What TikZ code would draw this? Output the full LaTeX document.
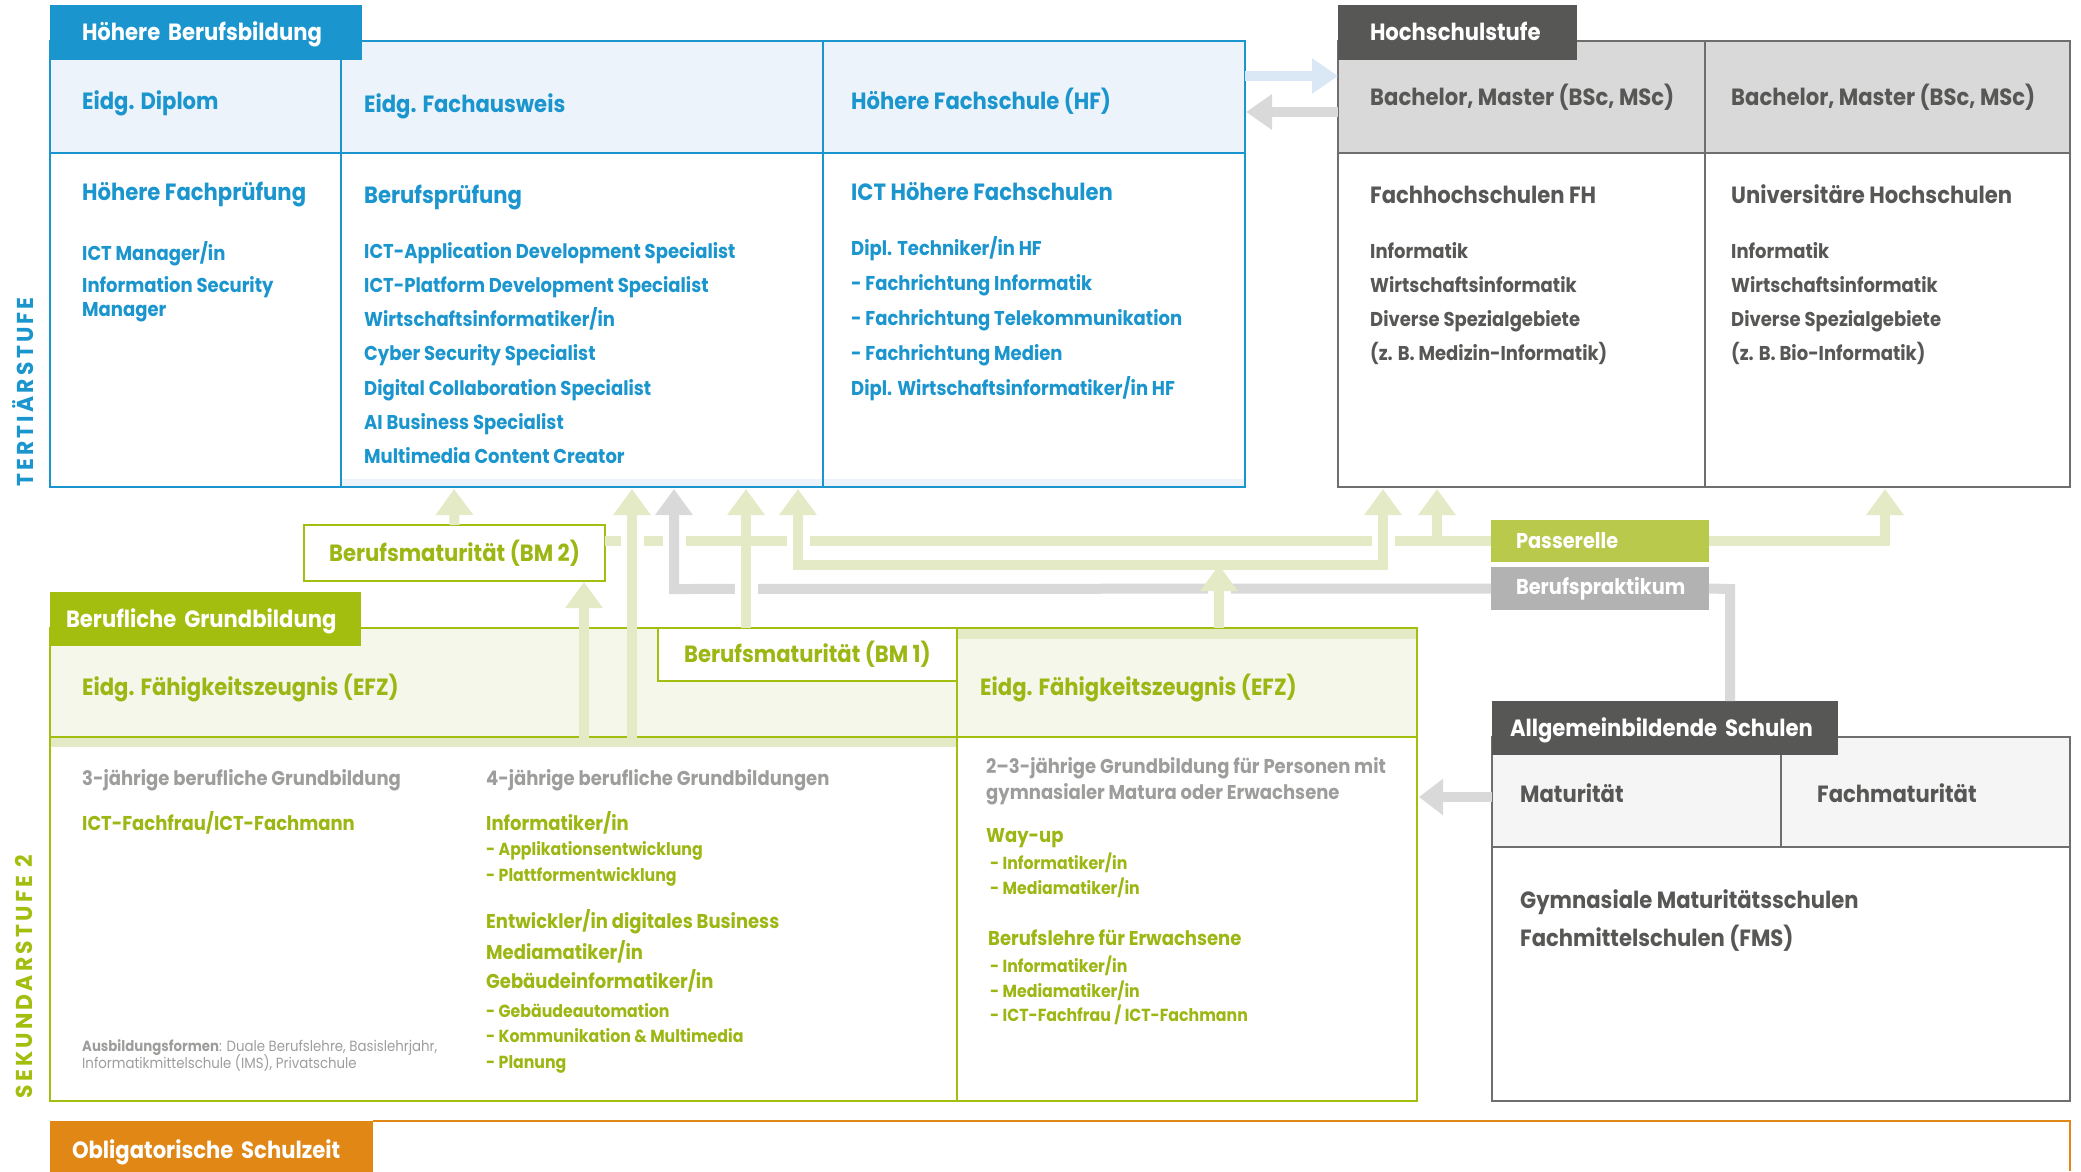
\documentclass[tikz,border=0pt]{standalone}
\usepackage{fontspec}
\setmainfont{Poppins}[FakeStretch=0.9]
\newfontfamily\stufeFamily{Poppins}[LetterSpace=14, FakeStretch=0.95]
\usepackage{tikz}
\usetikzlibrary{arrows.meta}
\definecolor{hbBlue}{HTML}{1A95CD}
\definecolor{hbLight}{HTML}{ECF3FB}
\definecolor{hbArrow}{HTML}{DAE8F6}
\definecolor{hsDark}{HTML}{575756}
\definecolor{hsGrey}{HTML}{D9D9D9}
\definecolor{hsLine}{HTML}{6E6E6E}
\definecolor{bgGreen}{HTML}{A3BE0F}
\definecolor{bgText}{HTML}{9CB713}
\definecolor{bgLight}{HTML}{F4F7EA}
\definecolor{bgStrip}{HTML}{E3EAC5}
\definecolor{pathGreen}{HTML}{E3EAC5}
\definecolor{passGreen}{HTML}{B8C94C}
\definecolor{prakGrey}{HTML}{B2B2B2}
\definecolor{pathGrey}{HTML}{D9D9D9}
\definecolor{textGrey}{HTML}{9D9D9C}
\definecolor{agLight}{HTML}{F5F5F5}
\definecolor{osOrange}{HTML}{E08716}
\newcommand{\tabFont}{\fontsize{23.5}{27}\selectfont\bfseries}
\newcommand{\boxFont}{\fontsize{21.5}{25}\selectfont\bfseries}
\newcommand{\headFont}{\fontsize{23.5}{28}\selectfont\bfseries}
\newcommand{\itemFont}{\fontsize{20}{24}\selectfont\bfseries}
\newcommand{\subFont}{\fontsize{17.5}{20}\selectfont\bfseries}
\newcommand{\noteFont}{\fontsize{14.8}{17}\selectfont}
\newcommand{\stufeFont}{\stufeFamily\fontsize{23}{26}\selectfont\bfseries}

\begin{document}
\begin{tikzpicture}[x=1pt, y=-1pt]

  \tikzstyle{fillBox} = [anchor=north west, inner sep=0pt, outer sep=0pt, draw=none];
  \tikzstyle{frameBox} = [anchor=north west, inner sep=0pt, outer sep=0pt, line width=1.6pt];
  \tikzstyle{tab} = [anchor=north west, inner ysep=0pt, outer sep=0pt, align=left, text=white, font=\tabFont, text height=16pt, text depth=0pt];
  \tikzstyle{lbl} = [anchor=west, inner sep=0pt, text depth=0pt];
  \tikzstyle{headTxt} = [lbl, font=\headFont, text height=16pt];
  \tikzstyle{itemTxt} = [lbl, font=\itemFont, text height=14pt];
  \tikzstyle{subTxt} = [lbl, font=\subFont, text height=12pt];
  \tikzstyle{greenPath} = [draw=pathGreen, line width=10pt];
  \tikzstyle{greyPath} = [draw=pathGrey, line width=10pt];
  \tikzstyle{upTip} = [-{Triangle[width=36pt,length=26pt]}];
  \tikzstyle{gap} = [draw=white, line width=23pt];

  \useasboundingbox (0,0) rectangle (2081,1171);

  % Hoehere Berufsbildung
  \node[fillBox, fill=hbLight, minimum width=1195pt, minimum height=112pt] (hbHead) at (50,41) {};
  \node[fillBox, fill=hbLight, minimum width=904pt, minimum height=8pt] (hbFoot) at (341,479) {};
  \node[frameBox, draw=hbBlue, minimum width=1195pt, minimum height=446pt] (hb) at (50,41) {};
  \draw[hbBlue, line width=1.6pt] (hbHead.south west) -- (hbHead.south east);
  \draw[hbBlue, line width=1.6pt] (341,41) -- (341,487);
  \draw[hbBlue, line width=1.6pt] (823,41) -- (823,487);
  \node[tab, fill=hbBlue, minimum width=312pt, minimum height=55pt, inner xsep=32pt, text width=248pt] (hbTab) at (50,5) {Höhere Berufsbildung};

  \node[headTxt, text=hbBlue] (diplom) at (82,101) {Eidg. Diplom};
  \node[headTxt, text=hbBlue] (ausweis) at (364,104) {Eidg. Fachausweis};
  \node[headTxt, text=hbBlue] (hf) at (851,101) {Höhere Fachschule (HF)};
  \node[headTxt, text=hbBlue] (hfp) at (82,192) {Höhere Fachprüfung};
  \node[headTxt, text=hbBlue] (bp) at (364,195) {Berufsprüfung};
  \node[headTxt, text=hbBlue] (icthf) at (851,192) {ICT Höhere Fachschulen};

  \node[itemTxt, text=hbBlue] (hfp1) at (82,253) {ICT Manager/in};
  \node[itemTxt, text=hbBlue] (hfp2) at (82,285) {Information Security};
  \node[itemTxt, text=hbBlue] (hfp3) at (82,309) {Manager};
  \foreach \txt [count=\i from 0] in {ICT-Application Development Specialist, ICT-Platform Development Specialist, Wirtschaftsinformatiker/in, Cyber Security Specialist, Digital Collaboration Specialist, AI Business Specialist, Multimedia Content Creator}
    \node[itemTxt, text=hbBlue] (bp\i) at (364,251+34.3*\i) {\txt};
  \foreach \txt [count=\i from 0] in {Dipl. Techniker/in HF, - Fachrichtung Informatik, - Fachrichtung Telekommunikation, - Fachrichtung Medien, Dipl. Wirtschaftsinformatiker/in HF}
    \node[itemTxt, text=hbBlue] (hf\i) at (851,248+35*\i) {\txt};

  % Hochschulstufe
  \node[fillBox, fill=hsGrey, minimum width=732pt, minimum height=112pt] (hsHead) at (1338,41) {};
  \node[frameBox, draw=hsLine, minimum width=732pt, minimum height=446pt] (hs) at (1338,41) {};
  \draw[hsLine, line width=1.6pt] (hsHead.south west) -- (hsHead.south east);
  \draw[hsLine, line width=1.6pt] (1705,41) -- (1705,487);
  \node[tab, fill=hsDark, minimum width=239pt, minimum height=55pt, inner xsep=32pt, text width=175pt] (hsTab) at (1338,5) {Hochschulstufe};

  \node[headTxt, text=hsDark] (fhBa) at (1370,97) {Bachelor, Master (BSc, MSc)};
  \node[headTxt, text=hsDark] (uniBa) at (1731,97) {Bachelor, Master (BSc, MSc)};
  \node[headTxt, text=hsDark] (fh) at (1370,195) {Fachhochschulen FH};
  \node[headTxt, text=hsDark] (uni) at (1731,195) {Universitäre Hochschulen};
  \foreach \txt [count=\i from 0] in {Informatik, Wirtschaftsinformatik, Diverse Spezialgebiete, (z. B. Medizin-Informatik)}
    \node[itemTxt, text=hsDark] (fh\i) at (1370,251+34*\i) {\txt};
  \foreach \txt [count=\i from 0] in {Informatik, Wirtschaftsinformatik, Diverse Spezialgebiete, (z. B. Bio-Informatik)}
    \node[itemTxt, text=hsDark] (uni\i) at (1731,251+34*\i) {\txt};

  % Durchlaessigkeit HF <-> Hochschule
  \coordinate (hfOut) at (1245,76);
  \coordinate (hsIn) at (1338,76);
  \coordinate (hsOut) at (1338,112);
  \coordinate (hfIn) at (1246,112);
  \draw[hbArrow, line width=10pt, -{Triangle[width=34pt,length=26pt]}] (hfOut) -- (hsIn);
  \draw[pathGrey, line width=10pt, -{Triangle[width=34pt,length=26pt]}] (hsOut) -- (hfIn);

  % Berufliche Grundbildung
  \node[fillBox, fill=bgLight, minimum width=907pt, minimum height=109pt] (efzL) at (50,628) {};
  \node[fillBox, fill=bgStrip, minimum width=907pt, minimum height=10pt] (efzLStrip) at (50,737) {};
  \node[fillBox, fill=bgLight, minimum width=460pt, minimum height=109pt] (efzR) at (957,628) {};
  \node[fillBox, fill=bgStrip, minimum width=460pt, minimum height=11pt] (efzRStrip) at (957,628) {};
  \node[frameBox, draw=bgGreen, minimum width=1367pt, minimum height=473pt] (bg) at (50,628) {};
  \draw[bgGreen, line width=1.6pt] (efzL.south west) -- (efzR.south east);
  \draw[bgGreen, line width=1.6pt] (efzR.north west) -- (957,1101);
  \node[frameBox, draw=bgGreen, fill=white, minimum width=299pt, minimum height=53pt, text=bgText, font=\tabFont] (bm1) at (658,628) {Berufsmaturität (BM 1)};
  \node[tab, fill=bgGreen, minimum width=311pt, minimum height=54pt, inner xsep=16pt, text width=279pt] (bgTab) at (50,592) {Berufliche Grundbildung};

  \node[headTxt, text=bgText] (efzLTxt) at (82,687) {Eidg. Fähigkeitszeugnis (EFZ)};
  \node[headTxt, text=bgText] (efzRTxt) at (980,687) {Eidg. Fähigkeitszeugnis (EFZ)};

  \node[itemTxt, text=textGrey] (g3) at (82,778) {3-jährige berufliche Grundbildung};
  \node[itemTxt, text=bgText] (g3a) at (82,823) {ICT-Fachfrau/ICT-Fachmann};
  \node[lbl, font=\noteFont, text=textGrey, text height=10pt] (form1) at (82,1046) {\textbf{Ausbildungsformen}: Duale Berufslehre, Basislehrjahr,};
  \node[lbl, font=\noteFont, text=textGrey, text height=10pt] (form2) at (82,1063) {Informatikmittelschule (IMS), Privatschule};

  \node[itemTxt, text=textGrey] (g4) at (486,778) {4-jährige berufliche Grundbildungen};
  \node[itemTxt, text=bgText] (g4a) at (486,823) {Informatiker/in};
  \node[subTxt, text=bgText] (g4a1) at (486,849) {- Applikationsentwicklung};
  \node[subTxt, text=bgText] (g4a2) at (486,875) {- Plattformentwicklung};
  \node[itemTxt, text=bgText] (g4b) at (486,921) {Entwickler/in digitales Business};
  \node[itemTxt, text=bgText] (g4c) at (486,952) {Mediamatiker/in};
  \node[itemTxt, text=bgText] (g4d) at (486,981) {Gebäudeinformatiker/in};
  \node[subTxt, text=bgText] (g4d1) at (486,1011) {- Gebäudeautomation};
  \node[subTxt, text=bgText] (g4d2) at (486,1036) {- Kommunikation \& Multimedia};
  \node[subTxt, text=bgText] (g4d3) at (486,1062) {- Planung};

  \node[itemTxt, text=textGrey] (g2) at (986,766) {2–3-jährige Grundbildung für Personen mit};
  \node[itemTxt, text=textGrey] (g2b) at (986,792) {gymnasialer Matura oder Erwachsene};
  \node[itemTxt, text=bgText] (way) at (986,835) {Way-up};
  \node[subTxt, text=bgText] (way1) at (990,863) {- Informatiker/in};
  \node[subTxt, text=bgText] (way2) at (990,888) {- Mediamatiker/in};
  \node[itemTxt, text=bgText] (adult) at (988,938) {Berufslehre für Erwachsene};
  \node[subTxt, text=bgText] (adult1) at (990,966) {- Informatiker/in};
  \node[subTxt, text=bgText] (adult2) at (990,991) {- Mediamatiker/in};
  \node[subTxt, text=bgText] (adult3) at (990,1015) {- ICT-Fachfrau / ICT-Fachmann};

  % Allgemeinbildende Schulen
  \node[fillBox, fill=agLight, minimum width=578pt, minimum height=110pt] (agHead) at (1492,737) {};
  \node[frameBox, draw=hsLine, minimum width=578pt, minimum height=364pt] (ag) at (1492,737) {};
  \draw[hsLine, line width=1.6pt] (agHead.south west) -- (agHead.south east);
  \draw[hsLine, line width=1.6pt] (1781,737) -- (1781,847);
  \node[tab, fill=hsDark, minimum width=346pt, minimum height=54pt, inner xsep=18pt, text width=310pt] (agTab) at (1492,701) {Allgemeinbildende Schulen};
  \node[headTxt, text=hsDark] (mat) at (1520,794) {Maturität};
  \node[headTxt, text=hsDark] (fmat) at (1817,794) {Fachmaturität};
  \node[headTxt, text=hsDark] (gym) at (1520,900) {Gymnasiale Maturitätsschulen};
  \node[headTxt, text=hsDark] (fms) at (1520,938) {Fachmittelschulen (FMS)};

  \coordinate (agOut) at (1492,797);
  \coordinate (bgIn) at (1419,797);
  \draw[greyPath, -{Triangle[width=35pt,length=24pt]}] (agOut) -- (bgIn);

  % Obligatorische Schulzeit
  \draw[osOrange, line width=2pt] (373,1121) -- (2070,1121) -- (2070,1171);
  \node[tab, fill=osOrange, minimum width=323pt, minimum height=58pt, inner xsep=22pt, text width=279pt] (osTab) at (50,1121) {Obligatorische Schulzeit};

  % Stufen
  \node[rotate=90, inner sep=0pt, font=\stufeFont, text=hbBlue] (tert) at (23,392) {TERTIÄRSTUFE};
  \node[rotate=90, inner sep=0pt, font=\stufeFont, text=bgGreen] (sek) at (24,977) {SEKUNDARSTUFE 2};

  % Berufsmaturitaet 2, Passerelle, Berufspraktikum
  \node[frameBox, draw=bgGreen, fill=white, minimum width=301pt, minimum height=56pt, text=bgText, font=\tabFont] (bm2) at (304,525) {Berufsmaturität (BM 2)};
  \node[fillBox, fill=passGreen, minimum width=218pt, minimum height=42pt, inner xsep=25pt, text width=168pt, align=left, text=white, font=\boxFont] (pass) at (1491,520) {Passerelle};
  \node[fillBox, fill=prakGrey, minimum width=218pt, minimum height=43pt, inner xsep=25pt, text width=168pt, align=left, text=white, font=\boxFont] (prak) at (1491,567) {Berufspraktikum};

  % Wege
  \coordinate (tipA) at (454,489);
  \coordinate (tipB) at (632,489);
  \coordinate (tipC) at (584,582);
  \coordinate (tipD) at (674,489);
  \coordinate (tipBM) at (746,489);
  \coordinate (tipE) at (798,489);
  \coordinate (tipF) at (1383,489);
  \coordinate (tipG) at (1437,489);
  \coordinate (tipH) at (1885,489);
  \coordinate (bendD) at (674,589);
  \coordinate (bendE) at (798,565);
  \coordinate (bendF) at (1383,565);
  \coordinate (joinEfz) at (1219,565);
  \coordinate (joinG) at (1437,541);
  \coordinate (bendH) at (1885,541);
  \coordinate (bendPk) at (1730,589);

  \draw[greenPath] (bm2.east |- pass.west) -- (pass.west);
  \draw[greenPath, upTip] (pass.east) -- (bendH) -- (tipH);
  \draw[greenPath, upTip] (joinG) -- (tipG);
  \draw[greyPath] (prak.east) -- (bendPk) -- (bendPk |- agTab.north);
  \draw[greenPath, upTip] (bm2.north) -- (tipA);

  \foreach \x in {632,674,798,1383}
    \draw[gap] (\x,533) -- (\x,549);
  \draw[greyPath, upTip] (prak.west) -- (bendD) -- (tipD);
  \foreach \x in {746,1219}
    \draw[gap] (\x,581) -- (\x,597);
  \draw[greenPath, upTip] (tipBM |- bm1.north) -- (tipBM);
  \draw[greenPath, upTip] (joinEfz |- efzR.north) -- (joinEfz);
  \draw[greenPath, {Triangle[width=36pt,length=26pt]}-{Triangle[width=36pt,length=26pt]}] (tipE) -- (bendE) -- (bendF) -- (tipF);
  \draw[greenPath, upTip] (tipB |- efzLStrip.south) -- (tipB);
  \draw[greenPath, upTip] (tipC |- efzLStrip.south) -- (tipC);

\end{tikzpicture}
\end{document}
